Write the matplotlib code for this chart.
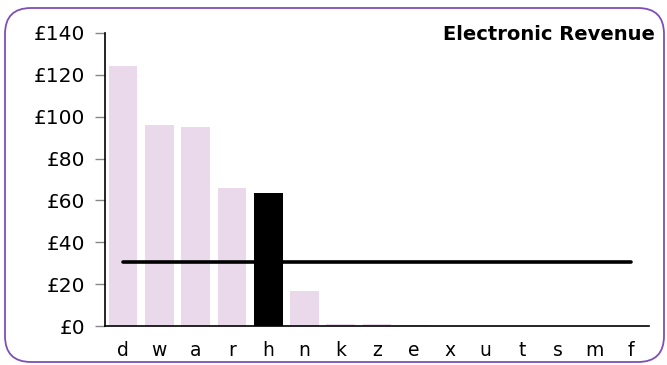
import matplotlib
matplotlib.use("Agg")
import matplotlib.pyplot as plt
from matplotlib.patches import FancyBboxPatch

categories = ["d", "w", "a", "r", "h", "n", "k", "z", "e", "x", "u", "t", "s", "m", "f"]
revenue = [124, 96.2, 95.1, 65.8, 63.4, 16.7, 1.0, 0.8, 0.6, 0, 0, 0, 0, 0, 0]
highlight = "h"
average = 30.7
y_ticks = [0, 20, 40, 60, 80, 100, 120, 140]
y_labels = ["£0", "£20", "£40", "£60", "£80", "£100", "£120", "£140"]
title = "Electronic Revenue"

W, H, DPI = 667, 365, 100
fig = plt.figure(figsize=(W / DPI, H / DPI), dpi=DPI)
fig.patch.set_facecolor("white")

# rounded purple frame around the chart (drawn in pixel units)
frame = FancyBboxPatch((5, 3), 659, 354,
                       boxstyle="round,pad=0,rounding_size=26",
                       transform=None, fill=False,
                       edgecolor="#7d4fb8", linewidth=1.3)
fig.patches.append(frame)

ax = fig.add_axes([105 / W, (H - 326) / H, 544 / W, 293 / H])
x = list(range(len(categories)))
colors = ["black" if c == highlight else "#ead9eb" for c in categories]
ax.bar(x, revenue, width=0.79, color=colors, zorder=2)
ax.plot([x[0], x[-1]], [average, average], color="black", linewidth=2.6,
        solid_capstyle="round", zorder=3)

ax.set_xlim(-0.5, len(categories) - 0.5)
ax.set_ylim(0, 140)
ax.set_yticks(y_ticks)
ax.set_yticklabels(y_labels)
ax.set_xticks(x)
ax.set_xticklabels(categories)

for side in ["top", "right"]:
    ax.spines[side].set_visible(False)
ax.spines["left"].set_linewidth(1.2)
ax.spines["bottom"].set_linewidth(1.2)
ax.tick_params(axis="y", length=7, width=1, color="#888888", labelsize=14.5, pad=7)
ax.tick_params(axis="x", length=0, labelsize=13.5, pad=11)

fig.text(655 / W, (H - 34) / H, title, ha="right", va="center",
         fontsize=14, fontweight="bold")

fig.savefig("out.png", dpi=DPI)
